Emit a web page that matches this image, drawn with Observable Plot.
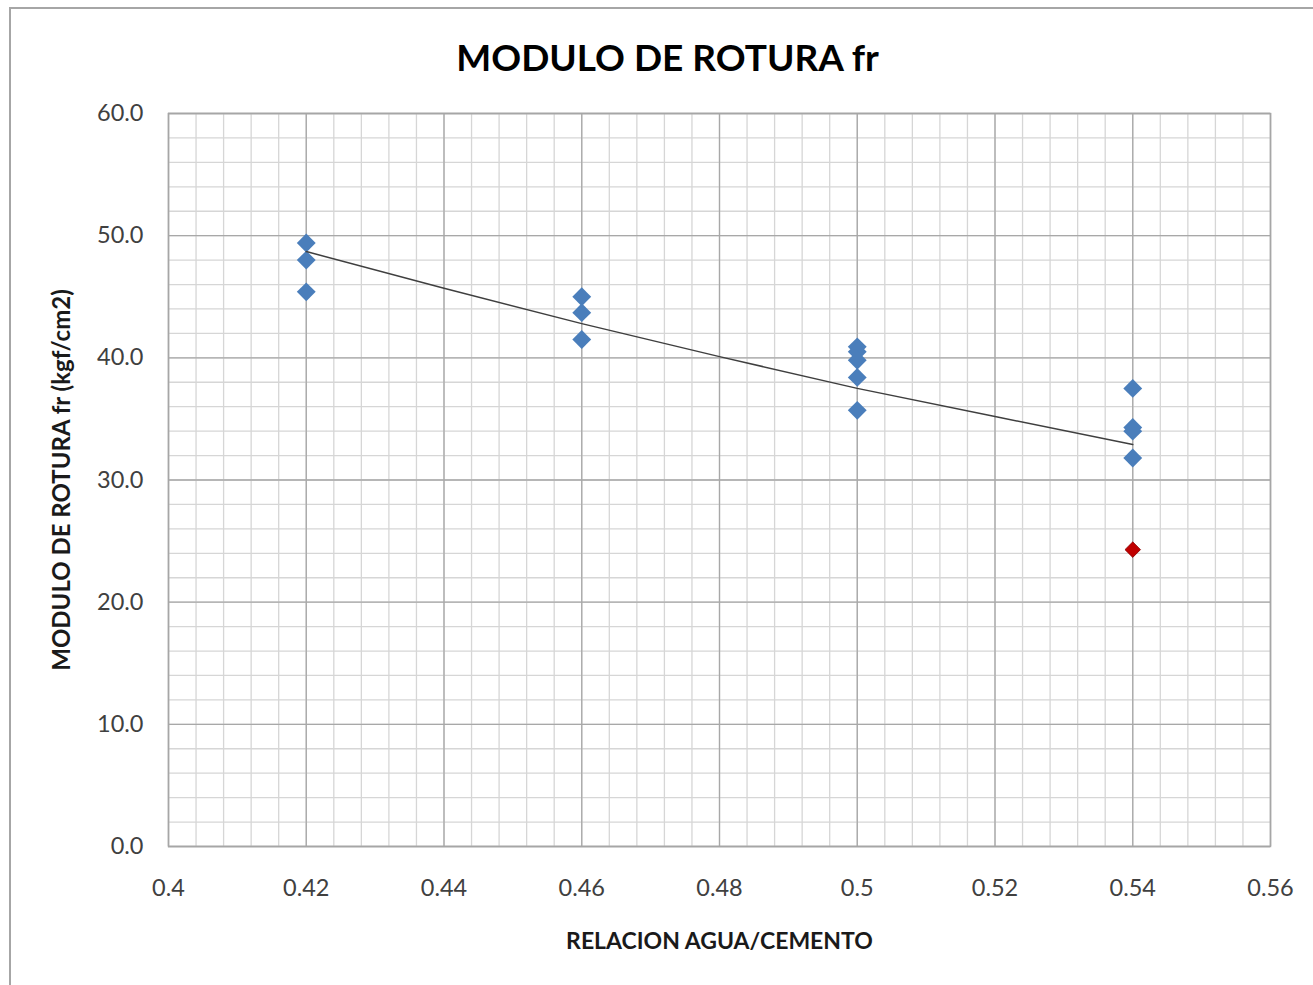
<!DOCTYPE html>
<html>
<head>
<meta charset="utf-8">
<script src="https://cdn.jsdelivr.net/npm/d3@7"></script>
<script src="https://cdn.jsdelivr.net/npm/@observablehq/plot@0.6"></script>
<style>
  html, body { margin: 0; padding: 0; background: #fff; overflow: hidden; }
  #wrap { position: relative; width: 1313px; height: 985px; overflow: hidden; }
  #border { position: absolute; left: 9px; top: 7px; width: 2000px; height: 2000px;
            border: 2px solid #a6a6a6; z-index: 10; pointer-events: none; }
  #title { height: 90px; box-sizing: border-box; padding-top: 38px; padding-left: 22px;
           text-align: center; font-family: Lato, "Open Sans", sans-serif; font-weight: bold;
           font-size: 37px; line-height: 37px; color: #000; }
</style>
</head>
<body>
<div id="wrap">
  <div id="border"></div>
  <div id="title">MODULO DE ROTURA fr</div>
  <div id="chart"></div>
</div>
<script>
// ---- data ----
const blueX = [0.42, 0.42, 0.42, 0.46, 0.46, 0.46, 0.50, 0.50, 0.50, 0.50, 0.50, 0.54, 0.54, 0.54, 0.54];
const blueY = [49.4, 48.0, 45.4, 45.0, 43.7, 41.5, 40.9, 40.5, 39.8, 38.4, 35.7, 37.5, 34.3, 34.0, 31.8];
const redX = [0.54];
const redY = [24.3];
const trendX = [0.42, 0.44, 0.46, 0.48, 0.50, 0.52, 0.54];
const trendY = [48.7, 45.7, 42.8, 40.1, 37.5, 35.2, 32.9];
const xTicks = [0.40, 0.42, 0.44, 0.46, 0.48, 0.50, 0.52, 0.54, 0.56];
const xTickLabels = ["0.4", "0.42", "0.44", "0.46", "0.48", "0.5", "0.52", "0.54", "0.56"];
const yTicks = [0, 10, 20, 30, 40, 50, 60];
const yTickLabels = ["0.0", "10.0", "20.0", "30.0", "40.0", "50.0", "60.0"];
const xMinorStep = 0.004;
const yMinorStep = 2;
const xLabel = "RELACION AGUA/CEMENTO";
const yLabel = "MODULO DE ROTURA fr (kgf/cm2)";

const blue = blueX.map((x, i) => ({x, y: blueY[i]}));
const red = redX.map((x, i) => ({x, y: redY[i]}));
const trend = trendX.map((x, i) => ({x, y: trendY[i]}));
const xMinor = d3.range(0, 41).map(i => 0.4 + i * xMinorStep);
const yMinor = d3.range(0, 31).map(i => i * yMinorStep);

const fontFam = "Lato, 'Open Sans', sans-serif";

const chart = Plot.plot({
  width: 1313,
  height: 895,
  marginLeft: 168,
  marginRight: 43,
  marginTop: 23,
  marginBottom: 139,
  style: { fontFamily: fontFam, background: "white", overflow: "visible" },
  x: { domain: [0.4, 0.56] },
  y: { domain: [0, 60] },
  marks: [
    Plot.gridX(xMinor, { stroke: "#d6d6d6", strokeOpacity: 1, strokeWidth: 1.3 }),
    Plot.gridY(yMinor, { stroke: "#d6d6d6", strokeOpacity: 1, strokeWidth: 1.3 }),
    Plot.gridX(xTicks, { stroke: "#a8a8a8", strokeOpacity: 1, strokeWidth: 1.3 }),
    Plot.gridY(yTicks, { stroke: "#a8a8a8", strokeOpacity: 1, strokeWidth: 1.3 }),
    Plot.frame({ stroke: "#a6a6a6", strokeWidth: 1.5 }),
    Plot.axisX(xTicks, {
      tickSize: 0, tickPadding: 33, fontSize: 23.5, fill: "#404040", label: null,
      tickFormat: d => xTickLabels[xTicks.indexOf(d)]
    }),
    Plot.axisY(yTicks, {
      tickSize: 0, tickPadding: 25, fontSize: 23.5, fill: "#404040", label: null,
      tickFormat: d => yTickLabels[yTicks.indexOf(d)]
    }),
    Plot.text([xLabel], { frameAnchor: "bottom", dy: 102, fontSize: 23, fontWeight: "bold", fill: "#1a1a1a" }),
    Plot.text([yLabel], { frameAnchor: "left", dx: -106, rotate: -90, textAnchor: "middle", fontSize: 24, fontWeight: "bold", fill: "#1a1a1a" }),
    Plot.dot(blue, { x: "x", y: "y", symbol: "diamond2", r: 8.5, fill: "#4a7ebb", stroke: "none" }),
    Plot.dot(red, { x: "x", y: "y", symbol: "diamond2", r: 7, fill: "#c00000", stroke: "#8a0000", strokeWidth: 0.8 }),
    Plot.line(trend, { x: "x", y: "y", stroke: "#3f3f3f", strokeWidth: 1.5 })
  ]
});
document.getElementById("chart").appendChild(chart);
</script>
</body>
</html>
